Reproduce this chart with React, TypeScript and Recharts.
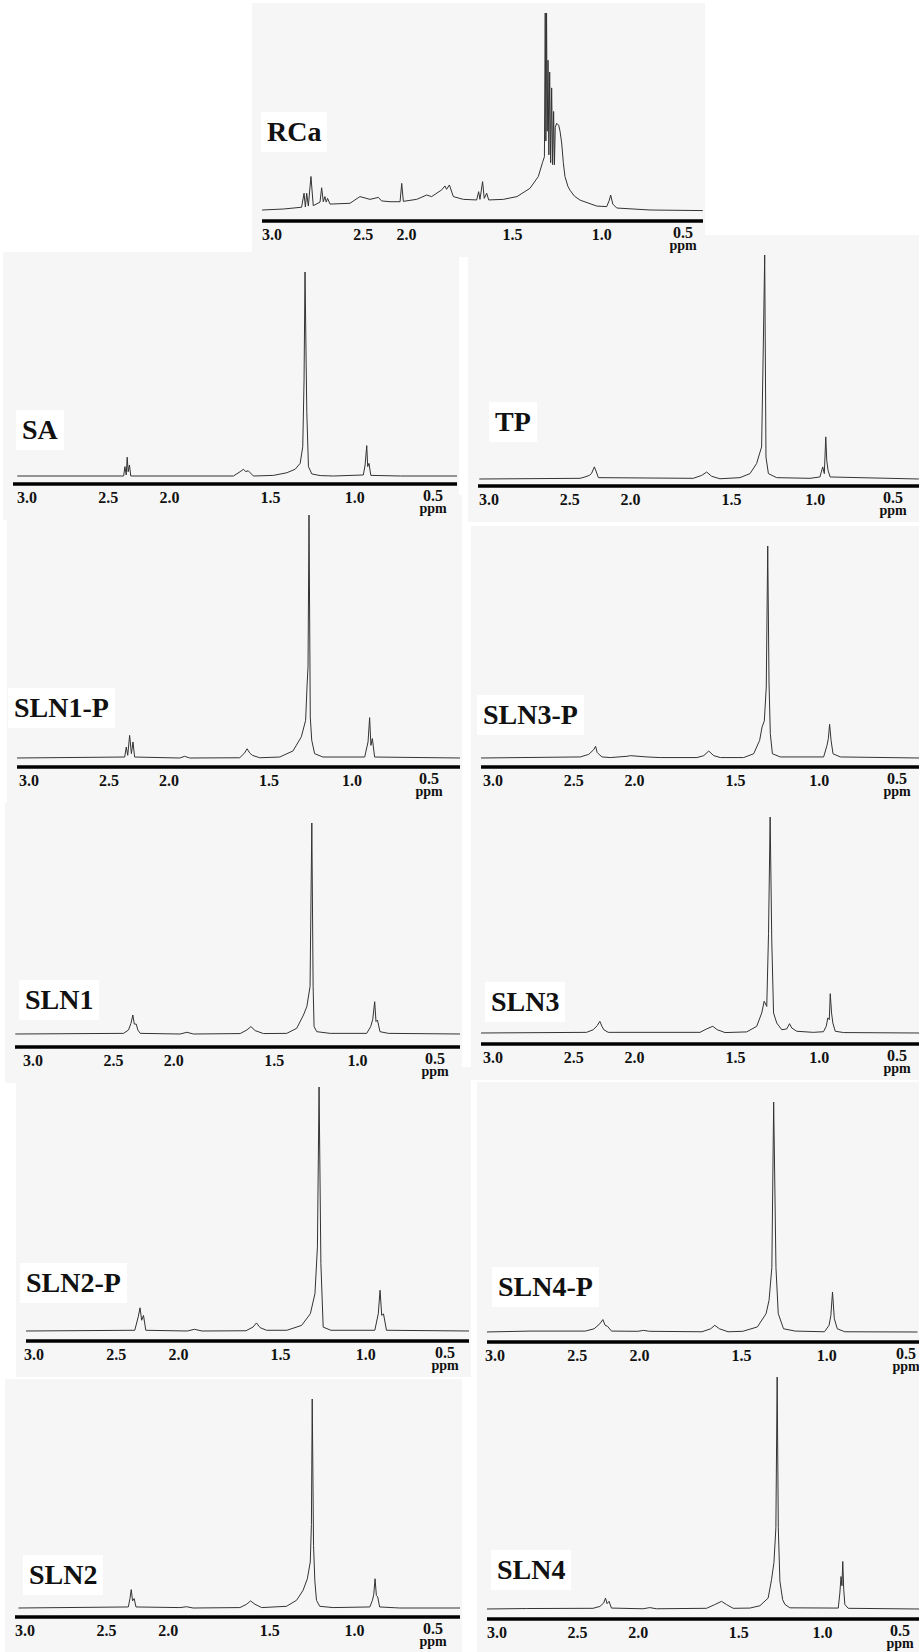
import { LineChart, Line, XAxis, YAxis } from 'recharts';

type Pt = [number, number];

// chemical shift ticks (ppm)
const TICKS = [3.0, 2.5, 2.0, 1.5, 1.0, 0.5];

// spectra: [ppm, relative intensity], 100 = tallest line of the panel
const RCA: Pt[] = [
  [3.06, 0], [2.93, 0.5], [2.82, 1.4], [2.805, 8.5], [2.797, 1.5], [2.789, 8.5], [2.779, 2], [2.763, 17],
  [2.749, 2.2], [2.708, 4], [2.698, 11.3], [2.688, 4.2], [2.678, 6.8], [2.67, 4], [2.662, 5.9], [2.647, 3],
  [2.526, 3.4], [2.465, 6.8], [2.404, 5.4], [2.353, 6.4], [2.333, 4.6], [2.282, 4.2], [2.221, 4.2],
  [2.211, 13.5], [2.201, 4.4], [2.12, 5.4], [2.059, 7.6], [2.029, 6.8], [1.968, 10.2], [1.948, 12.2],
  [1.938, 10.5], [1.921, 12.7], [1.897, 6.8], [1.836, 5.4], [1.755, 5.1], [1.743, 9.3], [1.735, 5.4],
  [1.719, 14.4], [1.709, 5.9], [1.694, 8.5], [1.682, 5.1], [1.593, 5.4], [1.51, 6.8], [1.431, 11],
  [1.38, 17], [1.355, 24], [1.343, 27], [1.338, 100], [1.334, 35], [1.33, 100], [1.326, 40], [1.321, 76],
  [1.316, 28], [1.311, 70], [1.305, 24], [1.299, 62], [1.293, 23], [1.287, 50], [1.282, 23], [1.277, 42],
  [1.268, 44], [1.256, 43], [1.248, 40], [1.238, 34], [1.228, 24], [1.218, 17], [1.2, 12], [1.187, 10],
  [1.16, 7], [1.126, 5], [1.025, 2], [0.964, 1.7], [0.948, 5], [0.94, 7.6], [0.927, 3], [0.903, 1],
  [0.7, 0], [0.38, -0.3],
];

const SA: Pt[] = [
  [3.06, 0], [2.405, 0], [2.397, 4.6], [2.389, 0.5], [2.383, 9.2], [2.377, 2.1], [2.369, 5.4], [2.361, 0],
  [1.729, 0], [1.688, 2.1], [1.667, 3.3], [1.653, 2.1], [1.638, 2.6], [1.606, 0],
  [1.482, 0.3], [1.4, 1.6], [1.349, 3.3], [1.318, 6.2], [1.302, 14.4], [1.294, 47], [1.288, 100],
  [1.281, 55], [1.277, 31], [1.267, 4.6], [1.246, 1], [1.195, 0.2], [1.113, 0],
  [0.929, 0.5], [0.918, 5.4], [0.908, 14.9], [0.902, 4.6], [0.894, 6.2], [0.883, 0.3], [0.7, 0], [0.35, 0],
];

const TP: Pt[] = [
  [3.06, 0], [2.437, 0.3], [2.406, 0.9], [2.38, 1.6], [2.366, 2.4], [2.348, 5.4], [2.338, 3.6], [2.323, 0.6],
  [1.736, 0.3], [1.684, 1.6], [1.653, 3.1], [1.622, 1.2], [1.571, 0.1],
  [1.447, 0.6], [1.385, 2.4], [1.344, 6.9], [1.323, 12], [1.313, 14.3], [1.302, 62], [1.294, 100],
  [1.286, 9.8], [1.271, 2.4], [1.22, 0.6], [1.014, 0.3],
  [0.952, 0.9], [0.935, 5.4], [0.925, 2.4], [0.916, 18.8], [0.91, 8.4], [0.902, 3.9], [0.889, 0.9], [0.34, 0],
];

const SLN1P: Pt[] = [
  [3.08, 0], [2.402, 0.4], [2.392, 4.5], [2.383, 1.1], [2.371, 9.3], [2.36, 1.8], [2.35, 6.6], [2.34, 0.4],
  [2.058, 0], [2.027, 0.7], [1.996, 0],
  [1.683, 0.1], [1.652, 2.1], [1.637, 3.8], [1.621, 2.1], [1.604, 1.1], [1.558, 0.1],
  [1.433, 0.4], [1.35, 2.9], [1.298, 8.7], [1.271, 15.5], [1.262, 30], [1.256, 37.5], [1.25, 100],
  [1.242, 16.9], [1.233, 7.3], [1.215, 1.8], [1.163, 0.4],
  [0.902, 0.4], [0.881, 6.6], [0.871, 16.6], [0.863, 5.2], [0.854, 8], [0.84, 0.4], [0.3, 0],
];

const SLN3P: Pt[] = [
  [3.08, 0], [2.46, 0.5], [2.408, 1.7], [2.377, 3.9], [2.365, 5.5], [2.356, 2.7], [2.348, 2], [2.325, 0.5],
  [2.274, 0.2], [2.171, 0.8], [2.15, 1.1], [2.047, 0.5], [1.965, 0.2],
  [1.738, 0.2], [1.696, 1.1], [1.665, 3.3], [1.634, 1.1], [1.593, 0.2],
  [1.449, 0.2], [1.387, 2], [1.35, 8.3], [1.335, 14.6], [1.321, 17.5], [1.309, 33.5], [1.3, 100],
  [1.292, 35.8], [1.284, 11.5], [1.271, 2], [1.222, 0.5],
  [0.954, 0.5], [0.933, 6], [0.925, 9.1], [0.917, 15.9], [0.908, 8.3], [0.896, 2], [0.851, 0.5], [0.36, 0],
];

const SLN1: Pt[] = [
  [3.11, 0], [2.437, 0.3], [2.406, 1.9], [2.391, 5], [2.379, 9], [2.37, 4.7], [2.358, 4.7], [2.348, 1.9],
  [2.333, 0.3], [2.085, 0], [2.043, 0.8], [2.002, 0],
  [1.712, 0.2], [1.67, 1.9], [1.645, 3.5], [1.618, 1.6], [1.567, 0.2],
  [1.422, 0.3], [1.36, 2.7], [1.318, 9], [1.297, 13], [1.277, 22.5], [1.266, 100], [1.258, 22.5],
  [1.252, 3.5], [1.235, 1.1], [1.152, 0.3],
  [0.925, 0.3], [0.9, 3.5], [0.887, 7], [0.875, 15.3], [0.867, 5.9], [0.858, 6.6], [0.842, 1.1],
  [0.79, 0.3], [0.34, 0],
];

const SLN3: Pt[] = [
  [3.08, 0], [2.421, 0.3], [2.38, 1.5], [2.355, 3.4], [2.339, 5.4], [2.326, 3.1], [2.314, 1.5], [2.287, 0.3],
  [1.719, 0.3], [1.678, 1.9], [1.64, 3.1], [1.612, 1.5], [1.564, 0.2],
  [1.43, 0.5], [1.368, 3.1], [1.337, 9.3], [1.322, 14.7], [1.306, 12.3], [1.295, 46], [1.285, 100],
  [1.275, 43], [1.264, 9.3], [1.244, 4.6], [1.213, 1.5], [1.182, 1.9], [1.165, 4.3], [1.151, 2.3],
  [1.12, 0.8], [1.017, 0.3],
  [0.955, 0.6], [0.938, 3.1], [0.928, 7], [0.919, 6.2], [0.913, 18.2], [0.905, 9.3], [0.897, 4.6],
  [0.882, 0.8], [0.83, 0.2], [0.36, 0],
];

const SLN2P: Pt[] = [
  [3.05, 0], [2.387, 0.3], [2.366, 5.8], [2.355, 9.5], [2.345, 4.4], [2.334, 6.4], [2.32, 0.3],
  [2.067, 0], [2.024, 0.7], [1.978, 0],
  [1.711, 0.1], [1.668, 1.6], [1.647, 3.3], [1.625, 1.4], [1.586, 0.3],
  [1.462, 0.3], [1.372, 2.3], [1.319, 7.1], [1.291, 15.3], [1.276, 34.5], [1.266, 100], [1.255, 27.7],
  [1.241, 1.6], [1.194, 0.3],
  [0.927, 0.3], [0.906, 7], [0.895, 16.7], [0.885, 6.4], [0.874, 7], [0.856, 0.3], [0.35, 0],
];

const SLN4P: Pt[] = [
  [3.06, 0], [2.787, 0.4], [2.45, 0.4], [2.397, 1.4], [2.362, 3.6], [2.344, 5.4], [2.33, 2.9], [2.316, 2.5],
  [2.291, 0.4], [2.131, 0.3], [2.096, 0.7], [2.06, 0.3],
  [1.741, 0.1], [1.688, 1.4], [1.663, 2.9], [1.635, 1.4], [1.582, 0.1],
  [1.493, 0.3], [1.404, 2.2], [1.351, 8], [1.333, 13.8], [1.316, 28], [1.305, 100], [1.291, 28],
  [1.277, 8], [1.245, 1.4], [1.174, 0.4],
  [0.996, 0.1], [0.968, 2.9], [0.957, 7.2], [0.947, 17.4], [0.936, 5.8], [0.918, 1.4], [0.872, 0.1], [0.43, 0],
];

const SLN2: Pt[] = [
  [3.04, 0], [2.367, 0.5], [2.357, 4.5], [2.349, 8.8], [2.341, 3.4], [2.331, 4.5], [2.32, 0.5],
  [2.051, 0.2], [2.01, 0.6], [1.97, 0],
  [1.683, 0.2], [1.642, 1.8], [1.618, 3.4], [1.591, 1.8], [1.55, 0.2],
  [1.398, 0.8], [1.336, 3.7], [1.296, 8.5], [1.27, 14], [1.252, 22], [1.245, 40], [1.24, 100],
  [1.232, 30], [1.224, 13], [1.214, 3.7], [1.194, 0.8], [1.112, 0.2],
  [0.887, 0.5], [0.871, 3.7], [0.863, 6.5], [0.855, 14], [0.847, 6], [0.839, 5.3], [0.827, 0.5],
  [0.704, 0], [0.33, 0],
];

const SLN4: Pt[] = [
  [3.07, 0], [2.818, 0.2], [2.404, 0.3], [2.362, 1.1], [2.338, 2.6], [2.327, 4.7], [2.317, 2.3],
  [2.305, 3.3], [2.29, 0.4], [2.094, 0.1], [2.052, 0.6], [2.011, 0.1],
  [1.7, 0.3], [1.649, 1.9], [1.607, 3.3], [1.576, 1.9], [1.535, 0.3],
  [1.431, 0.4], [1.369, 1.4], [1.318, 4.7], [1.297, 12.6], [1.282, 20], [1.27, 35], [1.262, 100],
  [1.255, 35], [1.245, 12], [1.228, 4], [1.214, 2], [1.183, 0.5],
  [0.883, 0.4], [0.873, 6.9], [0.866, 14], [0.86, 10], [0.855, 20.5], [0.849, 8.3], [0.842, 1.9],
  [0.821, 0.3], [0.38, 0],
];

interface Panel {
  name: string;
  data: Pt[];
  x0: number; x1: number;       // axis line ends (px)
  t30: number; t05: number;     // px of the 3.0 and 0.5 ticks
  axisY: number; base: number; top: number;
  lx: number; ly: number;       // label left / centre
  nudge?: Record<string, number>;
}

const PANELS: Panel[] = [
  { name: 'RCa', data: RCA, x0: 262, x1: 703, t30: 272, t05: 683, axisY: 221, base: 210, top: 13, lx: 267, ly: 132, nudge: { '2.5': 9, '2.0': -30, '1.5': -6, '1.0': 1 } },
  { name: 'SA', data: SA, x0: 13, x1: 457, t30: 27, t05: 433, axisY: 484, base: 476, top: 272, lx: 22, ly: 430 },
  { name: 'TP', data: TP, x0: 478, x1: 919, t30: 489, t05: 893, axisY: 486, base: 479, top: 255, lx: 495, ly: 422 },
  { name: 'SLN1-P', data: SLN1P, x0: 17, x1: 460, t30: 29, t05: 429, axisY: 767, base: 758, top: 515, lx: 14, ly: 708 },
  { name: 'SLN3-P', data: SLN3P, x0: 481, x1: 919, t30: 493, t05: 897, axisY: 767, base: 758, top: 546, lx: 483, ly: 715 },
  { name: 'SLN1', data: SLN1, x0: 15, x1: 460, t30: 33, t05: 435, axisY: 1047, base: 1034, top: 823, lx: 25, ly: 1000 },
  { name: 'SLN3', data: SLN3, x0: 481, x1: 919, t30: 493, t05: 897, axisY: 1044, base: 1033, top: 817, lx: 491, ly: 1002 },
  { name: 'SLN2-P', data: SLN2P, x0: 26, x1: 469, t30: 34, t05: 445, axisY: 1341, base: 1331, top: 1087, lx: 26, ly: 1283 },
  { name: 'SLN4-P', data: SLN4P, x0: 487, x1: 919, t30: 495, t05: 906, axisY: 1342, base: 1332, top: 1102, lx: 498, ly: 1287 },
  { name: 'SLN2', data: SLN2, x0: 15, x1: 460, t30: 25, t05: 433, axisY: 1617, base: 1608, top: 1399, lx: 29, ly: 1575 },
  { name: 'SLN4', data: SLN4, x0: 487, x1: 919, t30: 497, t05: 900, axisY: 1619, base: 1609, top: 1377, lx: 497, ly: 1570 },
];

const DEFAULT_NUDGE: Record<string, number> = { '2.0': -20, '1.0': 3 };
const SERIF = '"Liberation Serif", "Times New Roman", serif';
const PAGE_W = 919;
const M = 16;

function PpmTick(props: any) {
  const { x, y, payload, nudge, maxX } = props;
  const label = Number(payload.value).toFixed(1);
  const dx = nudge[label] ?? 0;
  const last = label === '0.5';
  const ppmX = Math.min(x, maxX - 12);
  return (
    <g>
      <text x={Math.min(x + dx, maxX - 11)} y={y + (last ? 17 : 19)} textAnchor="middle" fontFamily={SERIF}
        fontWeight="bold" fontSize={16} fill="#111">{label}</text>
      {last && (
        <text x={ppmX} y={y + 29} textAnchor="middle" fontFamily={SERIF}
          fontWeight="bold" fontSize={14} fill="#111">ppm</text>
      )}
    </g>
  );
}

function Background({ p }: { p: Panel }) {
  const top = Math.max(3, p.top - 20);
  const left = p.x0 - 10;
  return (
    <div style={{ position: 'absolute', left, top, width: Math.min(p.x1 + 2, PAGE_W) - left, height: p.axisY + 36 - top, background: '#f6f6f6' }} />
  );
}

function Spectrum({ p }: { p: Panel }) {
  const ppp = (p.t05 - p.t30) / 2.5;
  const hi = 3.0 + (p.t30 - p.x0) / ppp;
  const lo = 0.5 - (p.x1 - p.t05) / ppp;
  const plotH = p.axisY - p.top;
  const gap = p.axisY - p.base;
  const yMin = (-100 * gap) / (plotH - gap);
  const width = p.x1 - p.x0 + 2 * M;
  const height = plotH + 2 + 40;
  const data = p.data.map(([ppm, v]) => ({ ppm, v }));
  const maxX = PAGE_W - (p.x0 - M);

  return (
    <div style={{ position: 'absolute', left: p.x0 - M, top: p.top - 2 }}>
      <LineChart width={width} height={height} data={data} margin={{ top: 2, right: M, bottom: 0, left: M }}>
        <XAxis
          type="number"
          dataKey="ppm"
          domain={[lo, hi]}
          reversed
          allowDataOverflow
          ticks={TICKS}
          interval={0}
          tickLine={false}
          tickSize={0}
          tickMargin={0}
          height={40}
          axisLine={{ stroke: '#000', strokeWidth: 3.5 }}
          tick={<PpmTick nudge={p.nudge ?? DEFAULT_NUDGE} maxX={maxX} />}
        />
        <YAxis hide domain={[yMin, 100]} allowDataOverflow />
        <Line type="linear" dataKey="v" stroke="#333" strokeWidth={1} dot={false} isAnimationActive={false} />
      </LineChart>
    </div>
  );
}

function Label({ p }: { p: Panel }) {
  return (
    <div style={{ position: 'absolute', left: p.lx - 6, top: p.ly - 20, height: 40, lineHeight: '40px', padding: '0 6px', background: '#fff', fontFamily: SERIF, fontWeight: 'bold', fontSize: 28, color: '#111', whiteSpace: 'nowrap' }}>
      {p.name}
    </div>
  );
}

export default function App() {
  return (
    <div style={{ position: 'absolute', left: 0, top: 0, width: PAGE_W, height: 1652, overflow: 'hidden', background: '#fff' }}>
      {PANELS.map((p) => <Background key={`bg-${p.name}`} p={p} />)}
      {PANELS.map((p) => <Spectrum key={p.name} p={p} />)}
      {PANELS.map((p) => <Label key={`lb-${p.name}`} p={p} />)}
    </div>
  );
}
